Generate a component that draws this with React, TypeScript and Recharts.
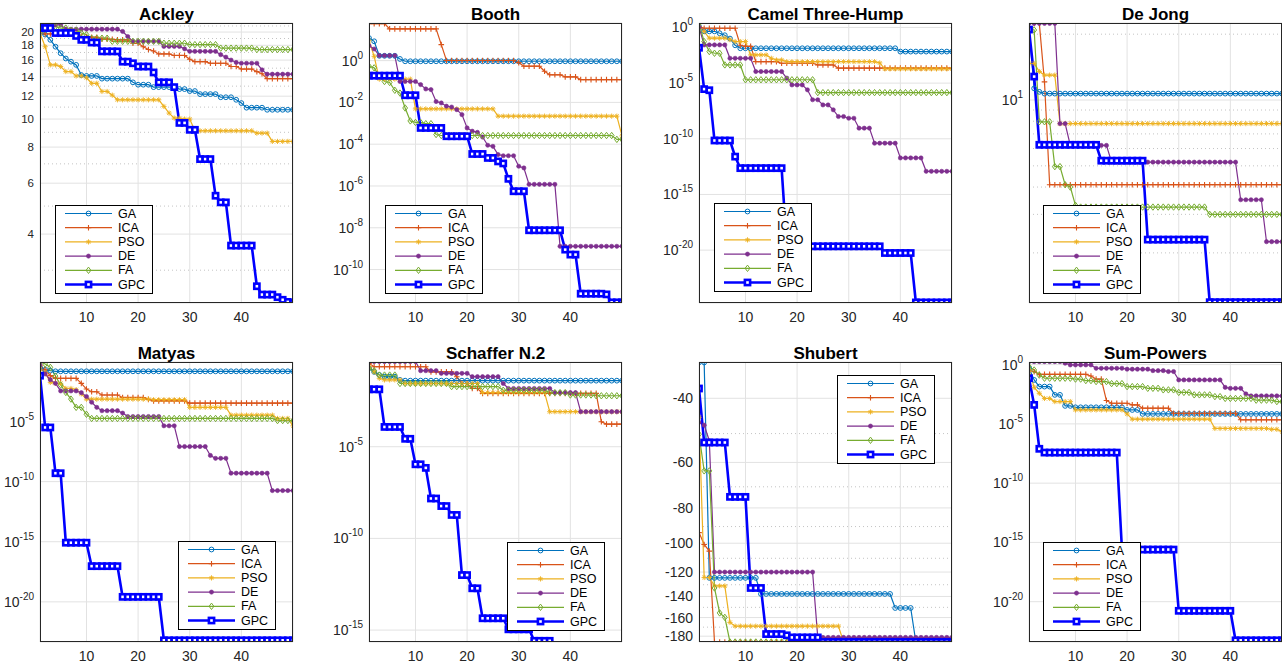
import React from 'react';
import { LineChart, Line, XAxis, YAxis, CartesianGrid, ReferenceLine } from 'recharts';

const ITERATIONS = Array.from({ length: 50 }, (_, i) => i + 1);
const SERIES = ['GA', 'ICA', 'PSO', 'DE', 'FA', 'GPC'];
const X_TICKS = [10, 20, 30, 40];

// best cost per run, read as steps: [first iteration, value]
const ackleyGA = [[1, 19.85], [2, 19.6], [3, 18.8], [4, 17.8], [5, 16.9], [6, 16.2], [7, 15.8], [8, 15.4], [9, 14.2], [10, 14.1], [13, 13.8], [19, 13.4], [20, 13.15], [23, 12.9], [28, 12.7], [30, 12.5], [32, 12.2], [36, 11.9], [39, 11.66], [40, 11.36], [41, 10.95], [45, 10.77]];
const ackleyICA = [[1, 20.1], [2, 19.7], [9, 19.3], [10, 19.2], [13, 18.9], [16, 18.8], [19, 18.3], [21, 17.8], [22, 17.4], [23, 17.2], [24, 16.8], [27, 16.6], [30, 16.1], [31, 15.8], [34, 15.6], [38, 15.2], [40, 14.9], [43, 14.6], [44, 14.35], [45, 13.8]];
const ackleyPSO = [[1, 19.85], [2, 17.8], [3, 15.4], [5, 15.2], [6, 14.6], [8, 14.1], [10, 13.9], [11, 13.3], [13, 12.46], [15, 12.1], [16, 11.66], [25, 11.06], [26, 10.49], [27, 10.08], [29, 10.0], [31, 9.11], [43, 8.94], [46, 8.37]];
const ackleyDE = [[1, 21.2], [6, 20.46], [17, 20.1], [18, 19.3], [19, 18.58], [25, 17.84], [29, 17.5], [30, 17.15], [36, 16.7], [37, 16.38], [38, 16.0], [39, 15.7], [40, 15.6], [44, 14.8], [45, 14.3]];
const ackleyFA = [[1, 21.4], [2, 21.2], [3, 20.9], [5, 20.65], [7, 20.3], [9, 19.85], [10, 19.6], [11, 19.05], [15, 18.58], [25, 18.3], [30, 18.1], [36, 17.6], [43, 17.4]];
const ackleyGPC = [[1, 20.65], [4, 19.85], [8, 19.4], [9, 18.8], [11, 18.4], [13, 17.15], [17, 15.8], [19, 15.6], [20, 15.2], [23, 14.5], [24, 13.4], [27, 12.9], [28, 9.7], [30, 9.18], [32, 7.27], [35, 5.43], [36, 5.15], [38, 3.65], [43, 2.64], [44, 2.47], [47, 2.42], [48, 2.37], [49, 2.33], [50, 2.31]];

const boothGA = [[1, 12], [2, 8.4], [3, 1.7], [7, 1.2], [8, 0.93]];
const boothICA = [[1, 59], [5, 33], [15, 5.8], [16, 1.02], [30, 0.8], [31, 0.54], [35, 0.31], [36, 0.21], [39, 0.166], [42, 0.123]];
const boothPSO = [[1, 9], [2, 1.6], [3, 0.13], [10, 0.0049], [26, 0.0022], [50, 2.5e-4]];
const boothDE = [[1, 5.2], [2, 3.6], [3, 1.74], [7, 0.1], [11, 0.071], [12, 0.044], [13, 0.041], [14, 0.011], [15, 0.0094], [16, 0.0066], [17, 0.006], [18, 0.0045], [19, 0.0026], [20, 6e-4], [21, 4.2e-4], [22, 3.7e-4], [23, 2.2e-4], [24, 8.9e-5], [25, 7.9e-5], [26, 3.2e-5], [27, 2.8e-5], [30, 8.8e-6], [31, 7.3e-6], [32, 1.2e-6], [38, 1.3e-9]];
const boothFA = [[1, 0.54], [2, 0.45], [3, 0.18], [4, 0.1], [5, 0.09], [6, 0.038], [7, 0.028], [8, 0.0054], [9, 0.0013], [10, 0.0011], [12, 9.6e-4], [14, 2.9e-4], [15, 2.6e-4], [49, 1.7e-4]];
const boothGPC = [[1, 0.19], [8, 0.022], [11, 6e-4], [16, 2.4e-4], [21, 3.4e-5], [24, 2.2e-5], [26, 1.5e-5], [27, 1.2e-5], [28, 2.2e-6], [29, 5.6e-7], [32, 7.6e-9], [39, 9e-10], [40, 5.2e-10], [42, 7e-12], [47, 6.5e-12], [48, 2.7e-12]];

const camelGA = [[1, 1.2], [2, 0.45], [5, 0.3], [6, 0.2], [7, 0.1], [8, 0.025], [9, 0.0135], [40, 0.0068]];
const camelICA = [[1, 1.17], [2, 0.85], [9, 0.025], [10, 0.02], [12, 8.5e-4], [17, 6.1e-4], [24, 4.3e-4], [28, 2.2e-4]];
const camelPSO = [[1, 1.2], [2, 0.42], [3, 0.11], [7, 0.08], [8, 0.054], [11, 3.4e-3], [15, 1.7e-3], [16, 1.2e-3], [18, 8.5e-4], [36, 6.5e-4], [37, 1.9e-4]];
const camelDE = [[1, 1.1], [2, 0.027], [7, 1.7e-3], [12, 1.1e-4], [18, 2.8e-5], [19, 6.9e-6], [22, 2.5e-6], [23, 3.2e-7], [25, 1.1e-7], [27, 4e-8], [28, 1e-8], [30, 7e-9], [32, 9e-10], [35, 4e-11], [40, 1.9e-12], [45, 1.2e-13]];
const camelFA = [[1, 2.3], [2, 0.054], [3, 6.8e-3], [4, 4.8e-3], [6, 4.3e-4], [10, 2e-5], [24, 1.4e-6]];
const camelGPC = [[1, 0.015], [2, 2.9e-6], [3, 2.3e-6], [4, 7e-11], [8, 2.5e-12], [9, 2.3e-13], [18, 2.2e-20], [37, 5.5e-21], [43, 2e-25]];

const dejongGA = [[1, 21.2], [2, 11.3], [3, 10.9], [4, 10.7]];
const dejongICA = [[1, 22.4], [4, 12.1], [5, 4.1]];
const dejongPSO = [[1, 14.7], [3, 13.5], [4, 13.0], [7, 7.8]];
const dejongDE = [[1, 22.4], [7, 7.8], [9, 6.2], [17, 5.2], [42, 3.5], [47, 2.25]];
const dejongFA = [[1, 21.2], [2, 20.9], [3, 7.95], [6, 4.96], [8, 4.1], [9, 4.0], [10, 3.3], [11, 3.24], [36, 3.0]];
const dejongGPC = [[1, 21], [2, 12.8], [3, 6.24], [15, 5.28], [24, 2.3], [36, 1.19]];

const matyasGA = [[1, 0.3], [2, 0.2], [3, 0.17], [4, 0.15]];
const matyasICA = [[1, 0.44], [2, 0.2], [3, 0.065], [4, 0.039], [9, 0.015], [10, 5e-3], [11, 3e-3], [13, 1.6e-3], [17, 1e-3], [22, 7e-4], [23, 5.2e-4], [30, 3.4e-4]];
const matyasPSO = [[1, 0.23], [2, 0.12], [3, 0.018], [4, 0.015], [6, 5.6e-3], [8, 4.5e-3], [9, 2e-3], [10, 7.2e-4], [23, 6.5e-4], [30, 1.5e-4], [38, 3.4e-5], [47, 1.8e-5], [50, 4.4e-6]];
const matyasDE = [[1, 0.6], [2, 0.09], [3, 0.03], [4, 0.015], [5, 3.5e-3], [9, 2.5e-3], [10, 1.2e-3], [11, 4e-4], [12, 1.5e-4], [13, 7.9e-5], [17, 5e-5], [18, 2.6e-5], [25, 4.4e-6], [28, 8.3e-8], [34, 1.5e-8], [35, 8.7e-9], [38, 5e-10], [46, 1.8e-11]];
const matyasFA = [[1, 1.0], [2, 0.6], [3, 0.32], [4, 0.06], [5, 0.011], [6, 2.6e-3], [7, 7.3e-4], [8, 1.5e-4], [10, 4e-5], [11, 1.8e-5], [47, 1.2e-5]];
const matyasGPC = [[1, 0.065], [2, 3.2e-6], [4, 5e-10], [6, 8.3e-16], [11, 9.3e-18], [17, 2.6e-20], [25, 6.3e-24]];

const schafferGA = [[1, 0.19], [2, 0.12], [3, 0.081], [4, 0.066], [7, 0.044], [8, 0.04]];
const schafferICA = [[1, 0.35], [2, 0.23], [13, 0.12], [18, 0.066], [19, 0.028], [21, 0.015], [23, 8.1e-3], [46, 2.3e-4], [47, 1.7e-4]];
const schafferPSO = [[1, 0.23], [2, 0.12], [3, 0.054], [4, 0.044], [8, 0.028], [23, 8.9e-3], [36, 8.1e-4]];
const schafferDE = [[1, 0.44], [11, 0.14], [15, 0.1], [21, 0.066], [27, 0.028], [28, 0.015], [37, 8.9e-3], [42, 8.1e-4]];
const schafferFA = [[1, 0.19], [2, 0.14], [3, 0.081], [7, 0.028], [17, 0.019], [27, 0.012], [36, 8.9e-3], [40, 6.6e-3], [45, 6e-3]];
const schafferGPC = [[1, 0.0135], [4, 1.2e-4], [8, 2.7e-5], [10, 1.1e-6], [12, 7e-7], [13, 1.5e-8], [15, 5.8e-9], [17, 1.9e-9], [19, 1e-12], [21, 1.9e-13], [23, 4.4e-15], [28, 1.1e-15], [33, 2.6e-16], [37, 6e-17]];

const shubertGA = [[1, -31.9], [3, -124.5], [13, -137.8], [39, -150.6], [43, -186.7]];
const shubertICA = [[1, -93.5], [2, -100.8], [3, -105.1], [4, -186.7]];
const shubertPSO = [[1, -45.1], [2, -124.2], [4, -131], [7, -165], [8, -168.9], [29, -186.7]];
const shubertDE = [[1, -46.6], [2, -47.4], [3, -52.3], [4, -120], [24, -181.4]];
const shubertFA = [[1, -50.2], [2, -63.3], [4, -132.7], [5, -155.4], [6, -159.8], [7, -186.7]];
const shubertGPC = [[1, -37.6], [2, -52.9], [7, -74.6], [11, -132.7], [14, -177.6], [18, -179], [19, -181.4], [25, -186.7]];

const sumGA = [[1, 0.49], [2, 0.051], [3, 0.014], [6, 2.8e-3], [8, 3.3e-4], [10, 2.5e-4], [20, 1.5e-4], [23, 6.9e-5]];
const sumICA = [[1, 0.35], [2, 0.25], [3, 0.15], [13, 0.11], [14, 0.06], [16, 9.3e-4], [17, 5.5e-4], [21, 4e-4], [23, 2.1e-4], [29, 7.9e-5], [42, 2.2e-5]];
const sumPSO = [[1, 0.35], [2, 0.012], [3, 3.8e-3], [4, 1.4e-3], [6, 7.6e-4], [10, 1.5e-4], [20, 6.9e-5], [21, 2.5e-5], [37, 4.1e-6], [48, 3.5e-6], [50, 2.2e-6]];
const sumDE = [[1, 1.78], [8, 1.3], [9, 0.94], [14, 0.49], [20, 0.41], [25, 0.31], [28, 0.26], [30, 0.051], [39, 0.012], [40, 0.01], [43, 3.4e-3], [44, 2.3e-3]];
const sumFA = [[1, 0.68], [2, 0.35], [3, 0.13], [4, 0.071], [10, 0.06], [12, 0.045], [14, 0.037], [17, 0.025], [20, 0.014], [24, 0.01], [27, 7.4e-3], [30, 4.5e-3], [33, 2.8e-3], [37, 2e-3], [39, 1.4e-3], [45, 1e-3], [49, 7.6e-4]];
const sumGPC = [[1, 0.071], [2, 4e-4], [3, 7.9e-8], [4, 3.8e-8], [19, 2.5e-16], [30, 1.7e-21], [41, 5.5e-24]];

// tick labels
const ackleyTicks = [4, 6, 8, 10, 12, 14, 16, 18, 20];
const ackleyMinor = [3, 5, 7, 9, 11, 13, 15, 17, 19, 21];
const boothTicks = [1e-10, 1e-8, 1e-6, 1e-4, 1e-2, 1];
const camelTicks = [1e-20, 1e-15, 1e-10, 1e-5, 1];
const dejongTicks = [10];
const dejongMinor = [2, 3, 4, 5, 6, 7, 8, 9, 20];
const matyasTicks = [1e-20, 1e-15, 1e-10, 1e-5];
const schafferTicks = [1e-15, 1e-10, 1e-5];
const shubertTicks = [-180, -160, -140, -120, -100, -80, -60, -40];
const shubertMinor = [-170, -150, -130, -110, -90, -70, -50];
const sumTicks = [1e-20, 1e-15, 1e-10, 1e-5, 1];

const FONT = '"Liberation Sans", Arial, Helvetica, sans-serif';
const INK = '#262626';
const BOX_W = 253;
const BOX_H = 280;
const PAD_L = 70;
const PAD_T = 25;
const LEG_ROW = 14.2;

const STYLE: Record<string, { color: string; marker: string; width: number }> = {
  GA: { color: '#0072BD', marker: 'circle', width: 1.2 },
  ICA: { color: '#D95319', marker: 'plus', width: 1.2 },
  PSO: { color: '#EDB120', marker: 'star', width: 1.2 },
  DE: { color: '#7E2F8E', marker: 'dot', width: 1.2 },
  FA: { color: '#77AC30', marker: 'diamond', width: 1.2 },
  GPC: { color: '#0000FF', marker: 'square', width: 2.6 },
};

const PANELS = [
  { title: 'Ackley', x: 40, y: 23, domain: [2.31, 21.5], ticks: ackleyTicks, minor: ackleyMinor, fmt: 'num', tickFont: 11.5, legend: [55, 205], data: { GA: ackleyGA, ICA: ackleyICA, PSO: ackleyPSO, DE: ackleyDE, FA: ackleyFA, GPC: ackleyGPC } },
  { title: 'Booth', x: 369, y: 23, domain: [Math.pow(10, -11.6), Math.pow(10, 1.8)], ticks: boothTicks, minor: [], fmt: 'pow', tickFont: 14, legend: [385, 205], data: { GA: boothGA, ICA: boothICA, PSO: boothPSO, DE: boothDE, FA: boothFA, GPC: boothGPC } },
  { title: 'Camel Three-Hump', x: 699, y: 23, domain: [Math.pow(10, -24.75), Math.pow(10, 0.4)], ticks: camelTicks, minor: [], fmt: 'pow', tickFont: 14, legend: [714, 203], data: { GA: camelGA, ICA: camelICA, PSO: camelPSO, DE: camelDE, FA: camelFA, GPC: camelGPC } },
  { title: 'De Jong', x: 1029, y: 23, domain: [1.18, 22.5], ticks: dejongTicks, minor: dejongMinor, fmt: 'pow', tickFont: 14, legend: [1043, 205], data: { GA: dejongGA, ICA: dejongICA, PSO: dejongPSO, DE: dejongDE, FA: dejongFA, GPC: dejongGPC } },
  { title: 'Matyas', x: 40, y: 362, domain: [Math.pow(10, -23.34), Math.pow(10, -0.05)], ticks: matyasTicks, minor: [], fmt: 'pow', tickFont: 14, legend: [178, 541], data: { GA: matyasGA, ICA: matyasICA, PSO: matyasPSO, DE: matyasDE, FA: matyasFA, GPC: matyasGPC } },
  { title: 'Schaffer N.2', x: 369, y: 362, domain: [Math.pow(10, -15.65), Math.pow(10, -0.38)], ticks: schafferTicks, minor: [], fmt: 'pow', tickFont: 14, legend: [507, 542], data: { GA: schafferGA, ICA: schafferICA, PSO: schafferPSO, DE: schafferDE, FA: schafferFA, GPC: schafferGPC } },
  { title: 'Shubert', x: 699, y: 362, domain: [-186.73, -31.8], ticks: shubertTicks, minor: shubertMinor, fmt: 'num', tickFont: 14, legend: [837, 375], data: { GA: shubertGA, ICA: shubertICA, PSO: shubertPSO, DE: shubertDE, FA: shubertFA, GPC: shubertGPC } },
  { title: 'Sum-Powers', x: 1029, y: 362, domain: [Math.pow(10, -23.4), Math.pow(10, 0.22)], ticks: sumTicks, minor: [], fmt: 'pow', tickFont: 14, legend: [1043, 542], data: { GA: sumGA, ICA: sumICA, PSO: sumPSO, DE: sumDE, FA: sumFA, GPC: sumGPC } },
];

function expand(steps: number[][]): number[] {
  return ITERATIONS.map((it) => {
    let v = steps[0][1];
    for (const [s, val] of steps) if (s <= it) v = val;
    return v;
  });
}

function buildRows(data: Record<string, number[][]>) {
  const cols = SERIES.map((k) => expand(data[k]));
  return ITERATIONS.map((it, i) => {
    const row: Record<string, number> = { it };
    SERIES.forEach((k, j) => (row[k] = cols[j][i]));
    return row;
  });
}

function Marker({ shape, cx, cy, color }: { shape: string; cx: number; cy: number; color: string }) {
  switch (shape) {
    case 'circle':
      return <circle cx={cx} cy={cy} r={2.4} fill="none" stroke={color} strokeWidth={1} />;
    case 'plus':
      return <path d={`M${cx - 2.8},${cy}H${cx + 2.8}M${cx},${cy - 2.8}V${cy + 2.8}`} stroke={color} strokeWidth={1.1} />;
    case 'star':
      return (
        <path
          d={`M${cx - 2.6},${cy}H${cx + 2.6}M${cx},${cy - 2.6}V${cy + 2.6}M${cx - 1.9},${cy - 1.9}L${cx + 1.9},${cy + 1.9}M${cx - 1.9},${cy + 1.9}L${cx + 1.9},${cy - 1.9}`}
          stroke={color}
          strokeWidth={0.9}
        />
      );
    case 'dot':
      return <circle cx={cx} cy={cy} r={2.1} fill={color} stroke={color} strokeWidth={0.6} />;
    case 'diamond':
      return <path d={`M${cx},${cy - 3.2}L${cx + 2.4},${cy}L${cx},${cy + 3.2}L${cx - 2.4},${cy}Z`} fill="none" stroke={color} strokeWidth={1} />;
    default:
      return <rect x={cx - 2.6} y={cy - 2.6} width={5.2} height={5.2} fill="#fff" stroke={color} strokeWidth={2.6} />;
  }
}

function XTick(props: any) {
  const { x, y, payload } = props;
  return (
    <text x={x} y={y + 12} textAnchor="middle" dominantBaseline="central" fontSize={14} fill={INK} fontFamily={FONT}>
      {payload.value}
    </text>
  );
}

function YTick(props: any) {
  const { x, y, payload, fmt, size } = props;
  const v = payload.value;
  if (fmt === 'pow') {
    const e = Math.round(Math.log10(v));
    return (
      <text x={x - 4} y={y} textAnchor="end" dominantBaseline="central" fontSize={size} fill={INK} fontFamily={FONT}>
        <tspan>10</tspan>
        <tspan fontSize={10} dy={-6}>{e}</tspan>
      </text>
    );
  }
  return (
    <text x={x - 4} y={y} textAnchor="end" dominantBaseline="central" fontSize={size} fill={INK} fontFamily={FONT}>
      {v}
    </text>
  );
}

function LegendBox({ x, y }: { x: number; y: number }) {
  const h = Math.round(SERIES.length * LEG_ROW + 3);
  return (
    <svg style={{ position: 'absolute', left: x, top: y }} width={98} height={h + 1}>
      <rect x={0.5} y={0.5} width={97} height={h} fill="#fff" stroke="#000" strokeWidth={1} />
      {SERIES.map((k, i) => {
        const cy = 8.5 + i * LEG_ROW;
        const s = STYLE[k];
        return (
          <g key={k}>
            <line x1={10} x2={57} y1={cy} y2={cy} stroke={s.color} strokeWidth={s.width} />
            <Marker shape={s.marker} cx={33.5} cy={cy} color={s.color} />
            <text x={63} y={cy} dominantBaseline="central" fontSize={12.5} fill="#000" fontFamily={FONT}>
              {k}
            </text>
          </g>
        );
      })}
    </svg>
  );
}

function Panel({ p }: { p: (typeof PANELS)[number] }) {
  const rows = buildRows(p.data);
  return (
    <div style={{ position: 'absolute', left: p.x - PAD_L, top: p.y - PAD_T }}>
      <LineChart width={BOX_W + PAD_L + 10} height={BOX_H + PAD_T + 30} data={rows} margin={{ top: PAD_T, right: 10, bottom: 0, left: 0 }}>
        <CartesianGrid stroke="#e2e2e2" strokeWidth={1} />
        <XAxis dataKey="it" type="number" domain={[1, 50]} ticks={X_TICKS} allowDataOverflow interval={0} tickLine={false} axisLine={false} tickSize={0} height={30} tick={<XTick />} />
        <YAxis type="number" scale="log" domain={p.domain} ticks={p.ticks} allowDataOverflow interval={0} tickLine={false} axisLine={false} tickSize={0} width={PAD_L} tick={<YTick fmt={p.fmt} size={p.tickFont} />} />
        {p.minor.map((v) => (
          <ReferenceLine key={v} y={v} stroke="#c4c4c4" strokeDasharray="1 3" strokeWidth={1} ifOverflow="hidden" />
        ))}
        {SERIES.map((k) => {
          const s = STYLE[k];
          return (
            <Line
              key={k}
              dataKey={k}
              type="linear"
              stroke={s.color}
              strokeWidth={s.width}
              isAnimationActive={false}
              activeDot={false}
              dot={(d: any) => <Marker key={`${k}-${d.index}`} shape={s.marker} cx={d.cx} cy={d.cy} color={s.color} />}
            />
          );
        })}
      </LineChart>
    </div>
  );
}

export default function App() {
  return (
    <div style={{ position: 'absolute', left: 0, top: 0, width: 1282, height: 667, background: '#fff', overflow: 'hidden' }}>
      {PANELS.map((p) => (
        <Panel key={p.title} p={p} />
      ))}
      {PANELS.map((p) => (
        <div
          key={`box-${p.title}`}
          style={{ position: 'absolute', left: p.x, top: p.y, width: BOX_W, height: BOX_H, border: `1px solid ${INK}`, boxSizing: 'border-box', pointerEvents: 'none' }}
        />
      ))}
      {PANELS.map((p) => (
        <div
          key={`t-${p.title}`}
          style={{ position: 'absolute', left: p.x, top: p.y - 18, width: BOX_W, lineHeight: '20px', textAlign: 'center', fontFamily: FONT, fontSize: 17, fontWeight: 'bold', color: '#000', whiteSpace: 'nowrap' }}
        >
          {p.title}
        </div>
      ))}
      {PANELS.map((p) => (
        <LegendBox key={`l-${p.title}`} x={p.legend[0]} y={p.legend[1]} />
      ))}
    </div>
  );
}
